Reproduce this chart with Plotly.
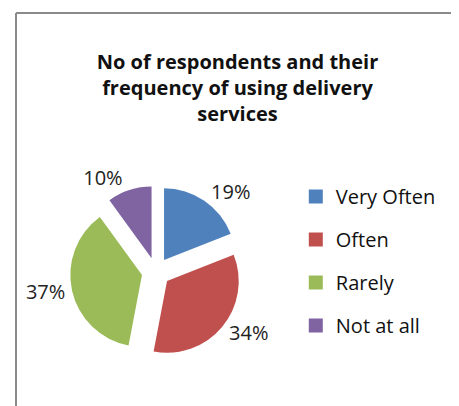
import plotly.graph_objects as go

categories = ["Very Often", "Often", "Rarely", "Not at all"]
values = [19, 34, 37, 10]
colors = ["#4F81BD", "#C0504D", "#9BBB59", "#8064A2"]
title_lines = ["No of respondents and their", "frequency of using delivery", "services"]

W, H = 459, 406
FONT = "Open Sans"

fig = go.Figure()
fig.add_trace(go.Pie(
    labels=categories, values=values, sort=False, direction="clockwise", rotation=0,
    marker=dict(colors=colors, line=dict(width=0)),
    pull=[0.2] * len(values),
    textposition="outside", texttemplate="%{percent:.0%}",
    textfont=dict(family=FONT, size=20, color="#222222"),
    domain=dict(x=[0.135, 0.5098], y=[0.138, 0.562]),
    automargin=False,
    showlegend=False, hoverinfo="label+percent",
))
for name, col in zip(categories, colors):
    fig.add_trace(go.Scatter(
        x=[None], y=[None], mode="markers", name=name, legendgroup=name,
        marker=dict(symbol="square", size=14, color=col),
    ))

fig.update_layout(
    width=W, height=H, margin=dict(l=0, r=0, t=0, b=0, autoexpand=False),
    paper_bgcolor="white", plot_bgcolor="white",
    xaxis=dict(visible=False), yaxis=dict(visible=False),
    title=dict(text="<br>".join(title_lines), x=0.5, xanchor="center",
               y=1 - 61 / H, yanchor="top",
               font=dict(family=FONT, size=20, color="#111111", weight="bold")),
    legend=dict(x=0.627, y=1 - 169 / H, xanchor="left", yanchor="top",
                font=dict(family=FONT, size=20, color="#111111"),
                tracegroupgap=14, bgcolor="rgba(0,0,0,0)"),
    shapes=[
        dict(type="line", xref="paper", yref="paper", x0=8 / W, x1=1, y0=1 - 5 / H, y1=1 - 5 / H,
             line=dict(color="#8a8a8a", width=2)),
        dict(type="line", xref="paper", yref="paper", x0=8 / W, x1=8 / W, y0=0, y1=1 - 5 / H,
             line=dict(color="#8a8a8a", width=2)),
    ],
)
fig.write_html("out.html")
